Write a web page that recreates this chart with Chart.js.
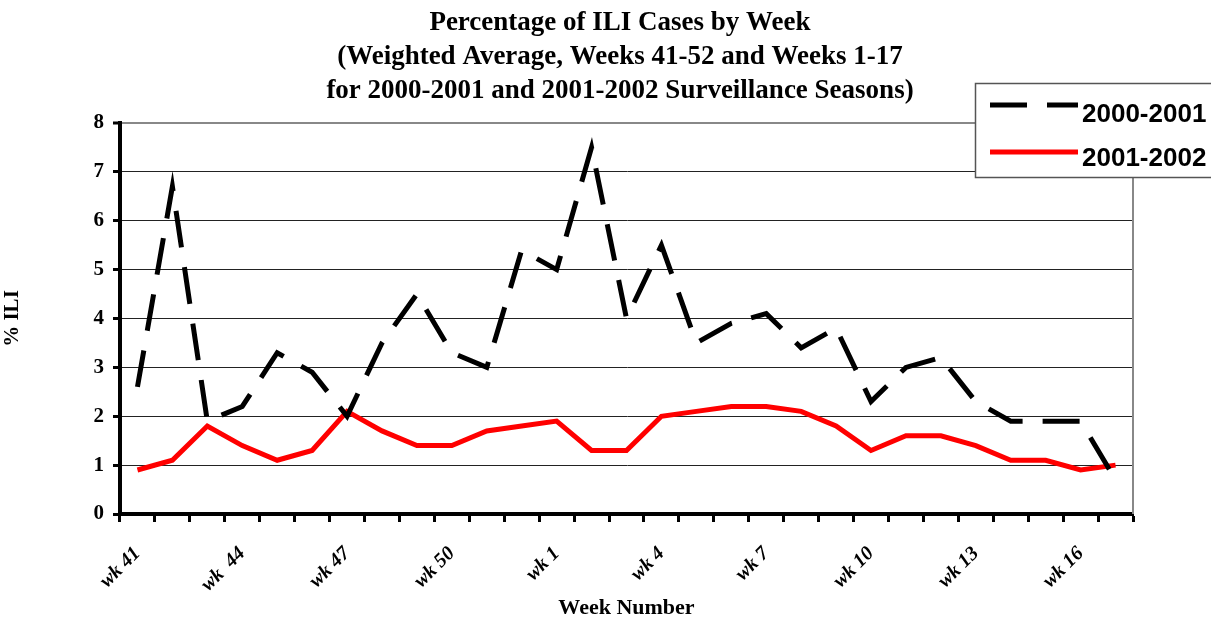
<!DOCTYPE html>
<html>
<head>
<meta charset="utf-8">
<script src="https://cdn.jsdelivr.net/npm/chart.js@4/dist/chart.umd.min.js"></script>
<style>
html,body{margin:0;padding:0;background:#fff;}
#c{display:block;}
</style>
</head>
<body>
<canvas id="c" width="1211" height="622"></canvas>
<script>
const weeks = ["wk 41","wk 42","wk 43","wk  44","wk 45","wk 46","wk 47","wk 48","wk 49","wk 50","wk 51","wk 52",
  "wk 1","wk 2","wk 3","wk 4","wk 5","wk 6","wk 7","wk 8","wk 9","wk 10","wk 11","wk 12","wk 13","wk 14","wk 15","wk 16","wk 17"];
const season2000 = [2.6,6.7,1.9,2.2,3.3,2.9,2.0,3.5,4.5,3.3,3.0,5.4,5.0,7.5,4.0,5.5,3.5,3.9,4.1,3.4,3.8,2.3,3.0,3.2,2.3,1.9,1.9,1.9,0.7];
const season2001 = [0.9,1.1,1.8,1.4,1.1,1.3,2.1,1.7,1.4,1.4,1.7,1.8,1.9,1.3,1.3,2.0,2.1,2.2,2.2,2.1,1.8,1.3,1.6,1.6,1.4,1.1,1.1,0.9,1.0];
const seriesNames = ["2000-2001","2001-2002"];
const titleLines = ["Percentage of ILI Cases by Week","(Weighted Average, Weeks 41-52 and Weeks 1-17","for 2000-2001 and 2001-2002 Surveillance Seasons)"];
const yTicks = [0,1,2,3,4,5,6,7,8];

const serif = '"Liberation Serif","Times New Roman",serif';
const sans = '"Liberation Sans",Arial,sans-serif';

const decor = {
  id: 'decor',
  beforeDatasetsDraw(chart) {
    const {ctx, chartArea: a} = chart;
    ctx.save();
    ctx.strokeStyle = '#888';
    ctx.lineWidth = 2;
    ctx.beginPath();
    ctx.moveTo(a.right, a.top);
    ctx.lineTo(a.right, a.bottom);
    ctx.stroke();
    ctx.restore();
  },
  afterDraw(chart) {
    const ctx = chart.ctx;
    ctx.save();
    // title
    ctx.fillStyle = '#000';
    ctx.font = 'bold 27px ' + serif;
    ctx.textAlign = 'center';
    ctx.textBaseline = 'middle';
    const ty = [23, 57, 91];
    titleLines.forEach((t, i) => ctx.fillText(t, 620, ty[i]));
    // legend
    ctx.fillStyle = '#fff';
    ctx.fillRect(975, 83, 245, 94);
    ctx.strokeStyle = '#555';
    ctx.lineWidth = 1.5;
    ctx.strokeRect(975.5, 83.5, 245, 94);
    ctx.lineCap = 'butt';
    ctx.strokeStyle = '#000';
    ctx.lineWidth = 5;
    ctx.setLineDash([37, 20]);
    ctx.beginPath(); ctx.moveTo(990, 105); ctx.lineTo(1078, 105); ctx.stroke();
    ctx.setLineDash([]);
    ctx.strokeStyle = '#ff0000';
    ctx.beginPath(); ctx.moveTo(990, 152); ctx.lineTo(1078, 152); ctx.stroke();
    ctx.fillStyle = '#000';
    ctx.font = 'bold 26px ' + sans;
    ctx.textAlign = 'left';
    ctx.fillText(seriesNames[0], 1082, 115);
    ctx.fillText(seriesNames[1], 1082, 159);
    ctx.restore();
  }
};

new Chart(document.getElementById('c'), {
  type: 'line',
  data: {
    labels: weeks,
    datasets: [
      { label: seriesNames[0], data: season2000, borderColor: '#000', borderWidth: 5, borderDash: [37, 20],
        pointRadius: 0, tension: 0, fill: false, borderCapStyle: 'butt' },
      { label: seriesNames[1], data: season2001, borderColor: '#ff0000', borderWidth: 5,
        pointRadius: 0, tension: 0, fill: false }
    ]
  },
  options: {
    responsive: false,
    animation: false,
    devicePixelRatio: 1,
    layout: { padding: { top: 123, right: 78, bottom: 0, left: 0 } },
    plugins: { legend: { display: false }, title: { display: false }, tooltip: { enabled: false } },
    scales: {
      x: {
        offset: true,
        afterFit(s) { s.height = 108; },
        grid: { offset: true, drawOnChartArea: false, drawTicks: true, tickLength: 8, tickWidth: 3, tickColor: '#000' },
        border: { display: true, color: '#000', width: 4 },
        ticks: {
          autoSkip: false, maxRotation: 45, minRotation: 45, padding: 20,
          color: '#000', font: { family: serif, size: 20, weight: 'bold', style: 'italic' },
          callback(v, i) { return i % 3 === 0 ? weeks[i] : ''; }
        },
        title: { display: true, text: 'Week Number', color: '#000', font: { family: serif, size: 22, weight: 'bold' }, padding: { top: 0, bottom: 0 } }
      },
      y: {
        min: 0, max: 8,
        afterFit(s) { s.width = 120; },
        afterBuildTicks(s) { s.ticks = yTicks.map(v => ({ value: v })); },
        grid: {
          color: ctx => (ctx.tick && ctx.tick.value === 8) ? '#888' : '#222',
          lineWidth: ctx => (ctx.tick && ctx.tick.value === 8) ? 2 : 1,
          tickLength: 7, tickWidth: 3, tickColor: '#000'
        },
        border: { display: true, color: '#000', width: 4 },
        ticks: { stepSize: 1, padding: 9, color: '#000', font: { family: serif, size: 21, weight: 'bold' } },
        title: { display: true, text: '% ILI', color: '#000', font: { family: serif, size: 21, weight: 'bold' }, padding: { top: 0, bottom: 0 } }
      }
    }
  },
  plugins: [decor]
});
</script>
</body>
</html>
